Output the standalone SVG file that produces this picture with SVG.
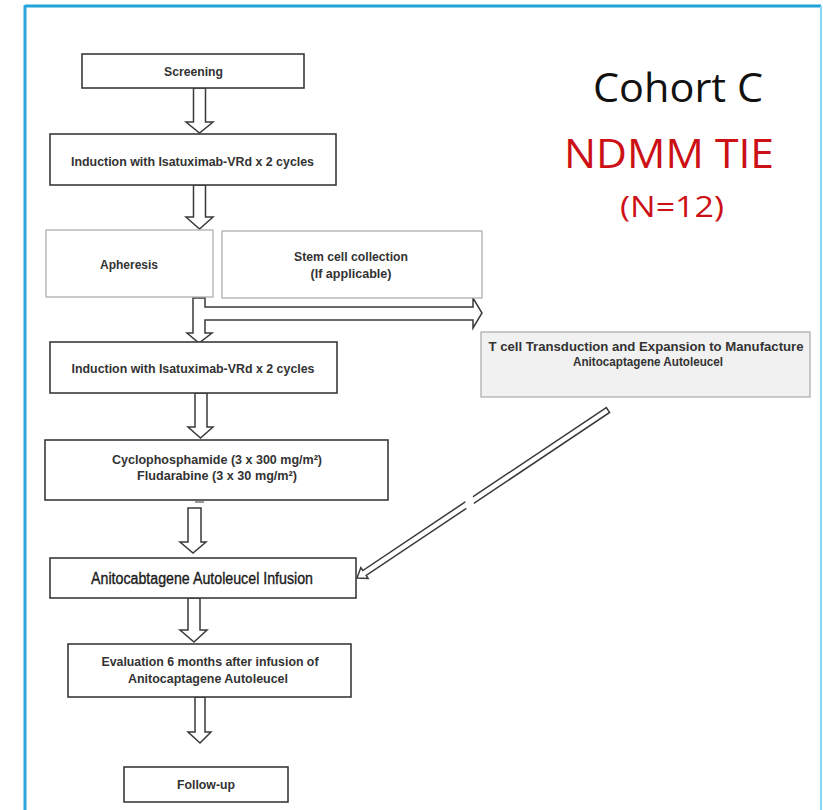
<svg xmlns="http://www.w3.org/2000/svg" width="823" height="810" viewBox="0 0 823 810">
<style>
.box{fill:#fff;stroke:#3a3a3a;stroke-width:1.6}
.lbox{fill:#fff;stroke:#a8a8a8;stroke-width:1.2}
.gbox{fill:#f1f1f1;stroke:#a8a8a8;stroke-width:1.2}
.t{font-family:"Liberation Sans",Arial,sans-serif;font-weight:bold;font-size:12.5px;fill:#333;text-anchor:middle}
.tn{font-family:"Liberation Sans",Arial,sans-serif;font-size:16px;fill:#1a1a1a;stroke:#1a1a1a;stroke-width:0.35;text-anchor:middle}
.arr{fill:#fff;stroke:#3a3a3a;stroke-width:1.5;stroke-linejoin:miter}
.h{font-family:"Open Sans","Noto Sans",sans-serif;text-anchor:middle}
</style>
<rect width="823" height="810" fill="#fff"/>
<g id="frame">
<line x1="25" y1="6" x2="821" y2="6" stroke="#1fa3d9" stroke-width="3"/>
<line x1="25" y1="5" x2="25" y2="810" stroke="#2aa6dc" stroke-width="3"/>
<line x1="821" y1="6" x2="821" y2="810" stroke="#8ad6f2" stroke-width="2"/>
</g>
<g id="title">
<text class="h" x="678" y="102" font-size="40" fill="#111" textLength="170" lengthAdjust="spacingAndGlyphs">Cohort C</text>
<text class="h" x="669" y="168" font-size="40" fill="#cc1016" textLength="210" lengthAdjust="spacingAndGlyphs">NDMM TIE</text>
<text class="h" x="672" y="217" font-size="30" fill="#cc1016" textLength="104" lengthAdjust="spacingAndGlyphs">(N=12)</text>
</g>
<g id="connectors">
<path class="arr" d="M193.5,88 L205.5,88 L205.5,122 L213,122 L199.5,133 L186,122 L193.5,122 Z"/>
<path class="arr" d="M193.5,185 L205.5,185 L205.5,217 L213,217 L199.5,229 L186,217 L193.5,217 Z"/>
<path class="arr" d="M193,298 L205,298 L205,307 L473,307 L473,298 L482,313 L473,328 L473,320 L205,320 L205,333 L212,333 L199,343 L187,333 L193,333 Z"/>
<path class="arr" d="M195,393 L207,393 L207,427 L213,427 L200.5,438 L188,427 L195,427 Z"/>
<line x1="195" y1="502" x2="204" y2="502" stroke="#777" stroke-width="1.5"/>
<path class="arr" d="M188,508 L201,508 L201,542 L206,542 L193,553 L180,542 L188,542 Z"/>
<path class="arr" d="M188,598 L200,598 L200,630 L207,630 L194,642 L180,630 L188,630 Z"/>
<path class="arr" d="M195,697 L205,697 L205,732 L211,732 L200,743 L188,732 L195,732 Z"/>
<g transform="translate(357,578) rotate(-33.8)">
<path class="arr" stroke-width="1.4" d="M302,-3 L9,-3 L9,-6.5 L0,0 L9,6.5 L9,3 L302,3 Z"/>
<rect x="131" y="-6" width="9" height="12" fill="#fff" transform="skewX(-25)"/>
</g>
</g>
<g id="screening">
<rect class="box" x="82" y="54" width="222" height="34"/>
<text class="t" x="193.5" y="76" textLength="59" lengthAdjust="spacingAndGlyphs">Screening</text>
</g>
<g id="induction1">
<rect class="box" x="50" y="134" width="286" height="51"/>
<text class="t" x="192.5" y="166" textLength="243" lengthAdjust="spacingAndGlyphs">Induction with Isatuximab-VRd x 2 cycles</text>
</g>
<g id="apheresis">
<rect class="lbox" x="46" y="230" width="167" height="67"/>
<text class="t" x="129" y="269" textLength="58" lengthAdjust="spacingAndGlyphs">Apheresis</text>
</g>
<g id="stemcell">
<rect class="lbox" x="222" y="231" width="260" height="67"/>
<text class="t" x="351" y="261" textLength="114" lengthAdjust="spacingAndGlyphs">Stem cell collection</text>
<text class="t" x="351" y="278" textLength="81" lengthAdjust="spacingAndGlyphs">(If applicable)</text>
</g>
<g id="tcell">
<rect class="gbox" x="481" y="332" width="329" height="65"/>
<text class="t" x="646" y="351" textLength="315" lengthAdjust="spacingAndGlyphs">T cell Transduction and Expansion to Manufacture</text>
<text class="t" x="648" y="366" textLength="150" lengthAdjust="spacingAndGlyphs">Anitocaptagene Autoleucel</text>
</g>
<g id="induction2">
<rect class="box" x="50" y="342" width="287" height="51"/>
<text class="t" x="193" y="373" textLength="243" lengthAdjust="spacingAndGlyphs">Induction with Isatuximab-VRd x 2 cycles</text>
</g>
<g id="lymphodepletion">
<rect class="box" x="45" y="440" width="343" height="60"/>
<text class="t" x="217" y="464" textLength="210" lengthAdjust="spacingAndGlyphs">Cyclophosphamide (3 x 300 mg/m²)</text>
<text class="t" x="217" y="480" textLength="160" lengthAdjust="spacingAndGlyphs">Fludarabine (3 x 30 mg/m²)</text>
</g>
<g id="infusion">
<rect class="box" x="50" y="558" width="306" height="40"/>
<text class="tn" x="202" y="584" textLength="222" lengthAdjust="spacingAndGlyphs">Anitocabtagene Autoleucel Infusion</text>
</g>
<g id="evaluation">
<rect class="box" x="68" y="644" width="283" height="53"/>
<text class="t" x="210" y="666" textLength="217" lengthAdjust="spacingAndGlyphs">Evaluation 6 months after infusion of</text>
<text class="t" x="208" y="683" textLength="160" lengthAdjust="spacingAndGlyphs">Anitocaptagene Autoleucel</text>
</g>
<g id="followup">
<rect class="box" x="124" y="767" width="164" height="35"/>
<text class="t" x="206" y="789" textLength="58" lengthAdjust="spacingAndGlyphs">Follow-up</text>
</g>
</svg>
